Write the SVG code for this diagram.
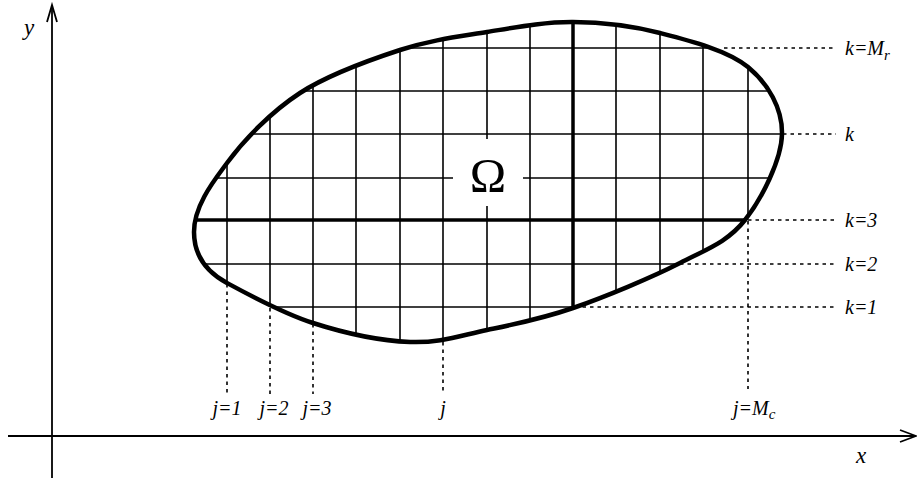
<svg xmlns="http://www.w3.org/2000/svg" width="917" height="480" viewBox="0 0 917 480">
<style>
.ax{stroke:#000;stroke-width:1.8;fill:none}
.grid{stroke:#000;stroke-width:1.6;fill:none}
.thick{stroke:#000;stroke-width:3.5;fill:none}
.bnd{stroke:#000;stroke-width:4.5;fill:none}
.dot{stroke:#000;stroke-width:1.6;fill:none;stroke-dasharray:3.5 4}
.lbl{font-family:"Liberation Serif","DejaVu Serif",serif;font-style:italic;font-size:20px;fill:#000}
.sub{font-size:15px}
.axl{font-size:23px}
</style>
<defs>
<path id="boundary" d="M194,232 C194,205 215,179.3 227,163 C244.5,139.3 271.2,111.8 300,93 C328.8,74.2 368.8,60.2 400,50 C431.2,39.8 458.2,36.7 487,32 C515.8,27.3 544.2,21.8 573,22 C601.8,22.2 630.8,25.5 660,33 C689.2,40.5 727.7,50.2 748,67 C768.3,83.8 782.5,108.5 782,134 C781.5,159.5 762,198.5 745,220 C728,241.5 708.7,248.3 680,263 C651.3,277.7 605.2,296.8 573,308 C540.8,319.2 514.2,324.3 487,330 C459.8,335.7 439,343.2 410,342 C381,340.8 343.5,332.8 313,323 C282.5,313.2 245.8,293.2 227,283 C210,273.8 194,258 194,232 Z"/>
<clipPath id="inside"><use href="#boundary"/></clipPath>
</defs>
<rect width="917" height="480" fill="#fff"/>
<g id="axes">
<line class="ax" x1="52" y1="5" x2="52" y2="478"/>
<polyline class="ax" points="47,22 52,5 57,22" stroke-width="2.2"/>
<line class="ax" x1="8" y1="436" x2="915" y2="436"/>
<polyline class="ax" points="900,430 916,436 900,442" stroke-width="2.2"/>
<text class="lbl axl" x="24" y="35">y</text>
<text class="lbl axl" x="856" y="463">x</text>
</g>
<g id="region">
<g id="grid" clip-path="url(#inside)">
<g class="grid">
<line x1="227" y1="0" x2="227" y2="400"/>
<line x1="270" y1="0" x2="270" y2="400"/>
<line x1="313" y1="0" x2="313" y2="400"/>
<line x1="356" y1="0" x2="356" y2="400"/>
<line x1="400" y1="0" x2="400" y2="400"/>
<line x1="443" y1="0" x2="443" y2="400"/>
<line x1="487" y1="0" x2="487" y2="400"/>
<line x1="530" y1="0" x2="530" y2="400"/>
<line x1="616" y1="0" x2="616" y2="400"/>
<line x1="660" y1="0" x2="660" y2="400"/>
<line x1="703" y1="0" x2="703" y2="400"/>
<line x1="748" y1="0" x2="748" y2="400"/>
<line x1="150" y1="48" x2="800" y2="48"/>
<line x1="150" y1="91" x2="800" y2="91"/>
<line x1="150" y1="134" x2="800" y2="134"/>
<line x1="150" y1="178" x2="800" y2="178"/>
<line x1="150" y1="264" x2="800" y2="264"/>
<line x1="150" y1="307" x2="800" y2="307"/>
</g>
<line class="thick" x1="573" y1="0" x2="573" y2="400"/>
<line class="thick" x1="150" y1="220" x2="800" y2="220"/>
</g>
<use href="#boundary" class="bnd"/>
<g id="omega">
<rect x="453" y="139" width="70" height="67" fill="#fff"/>
<text x="488" y="192" text-anchor="middle" font-family="Liberation Serif, DejaVu Serif, serif" font-size="49">Ω</text>
</g>
</g>
<g id="connectors">
<line class="dot" x1="724" y1="48" x2="836" y2="48"/>
<line class="dot" x1="783" y1="134" x2="836" y2="134"/>
<line class="dot" x1="748" y1="220" x2="834" y2="220"/>
<line class="dot" x1="680" y1="264" x2="834" y2="264"/>
<line class="dot" x1="575" y1="307" x2="834" y2="307"/>
<line class="dot" x1="227" y1="284" x2="227" y2="396"/>
<line class="dot" x1="270" y1="308" x2="270" y2="396"/>
<line class="dot" x1="313" y1="324" x2="313" y2="394"/>
<line class="dot" x1="443" y1="342" x2="443" y2="391"/>
<line class="dot" x1="748" y1="221" x2="748" y2="389"/>
</g>
<g id="labels">
<text class="lbl" x="845" y="55">k=M<tspan class="sub" dy="5">r</tspan></text>
<text class="lbl" x="845" y="141">k</text>
<text class="lbl" x="845" y="227">k=3</text>
<text class="lbl" x="845" y="271">k=2</text>
<text class="lbl" x="845" y="314">k=1</text>
<text class="lbl" x="227" y="415" text-anchor="middle">j=1</text>
<text class="lbl" x="274" y="415" text-anchor="middle">j=2</text>
<text class="lbl" x="317" y="415" text-anchor="middle">j=3</text>
<text class="lbl" x="443" y="415" text-anchor="middle">j</text>
<text class="lbl" x="733" y="415">j=M<tspan class="sub" dy="4">c</tspan></text>
</g>
</svg>
